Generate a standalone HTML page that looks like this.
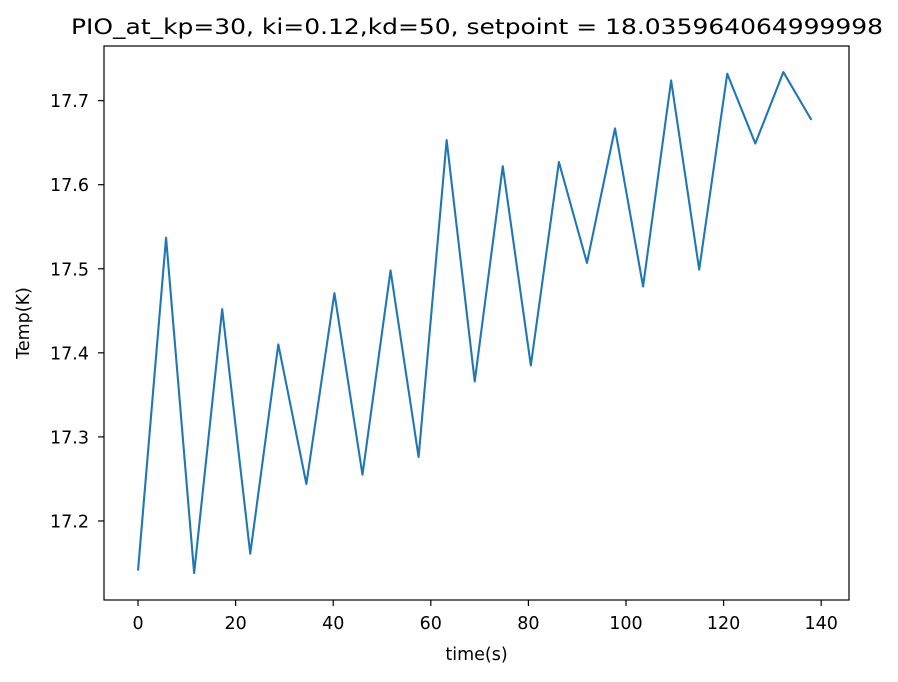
<!DOCTYPE html>
<html><head><meta charset="utf-8"><style>
body{margin:0;background:#fff;font-family:"DejaVu Sans","Liberation Sans",sans-serif}
</style></head><body>
<svg id="chart" width="898" height="678" xmlns="http://www.w3.org/2000/svg" font-family="DejaVu Sans, Liberation Sans, sans-serif"></svg>
<script>
const times=[0,5.75,11.5,17.25,23,28.75,34.5,40.25,46,51.75,57.5,63.25,69,74.75,80.5,86.25,92,97.75,103.5,109.25,115,120.75,126.5,132.25,138];
const temps=[17.141,17.537,17.138,17.452,17.161,17.41,17.244,17.471,17.255,17.498,17.276,17.653,17.366,17.622,17.385,17.627,17.507,17.667,17.479,17.724,17.499,17.732,17.649,17.734,17.677];
const xTicks=[0,20,40,60,80,100,120,140];
const yTicks=[17.2,17.3,17.4,17.5,17.6,17.7];
const L=104,R=849,T=46,B=600;
const xMin=-6.97,xMax=145.7,yMin=17.106,yMax=17.765;
const sx=v=>L+(v-xMin)/(xMax-xMin)*(R-L);
const sy=v=>B-(v-yMin)/(yMax-yMin)*(B-T);
const svg=document.getElementById('chart');
const NS='http://www.w3.org/2000/svg';
function mk(tag,attrs,txt){const e=document.createElementNS(NS,tag);for(const k in attrs)e.setAttribute(k,attrs[k]);if(txt!==undefined)e.textContent=txt;svg.appendChild(e);return e;}
let d='';times.forEach((t,i)=>{d+=(i?'L':'M')+sx(t).toFixed(2)+','+sy(temps[i]).toFixed(2);});
const line=mk('path',{d:d,fill:'none',stroke:'#1f77b4','stroke-width':2.1,'stroke-linejoin':'round'});


const frame=mk('rect',{x:L,y:T,width:R-L,height:B-T,fill:'none',stroke:'#000','stroke-width':1.2});


xTicks.forEach(v=>{const x=sx(v);
 const tk=mk('line',{x1:x,x2:x,y1:B,y2:B+6,stroke:'#000','stroke-width':1.2});
 
 
 const lb=mk('text',{x:x,y:B+29,'text-anchor':'middle','font-size':17.5},String(v));
 
 
});
yTicks.forEach(v=>{const y=sy(v);
 const tk=mk('line',{x1:L-6,x2:L,y1:y,y2:y,stroke:'#000','stroke-width':1.2});
 
 
 const lb=mk('text',{x:L-15,y:y+6.5,'text-anchor':'end','font-size':17.5},v.toFixed(1));
 
 
});
const xt=mk('text',{x:(L+R)/2,y:660,'text-anchor':'middle','font-size':17.5},'time(s)');


const yt=mk('text',{x:0,y:0,'text-anchor':'middle','font-size':17.5,transform:'translate(29 '+(T+B)/2+') rotate(-90)'},'Temp(K)');


const tt=mk('text',{x:71,y:34,'font-size':21,textLength:812,lengthAdjust:'spacingAndGlyphs'},'PIO_at_kp=30, ki=0.12,kd=50, setpoint = 18.035964064999998');


</script>
</body></html>
